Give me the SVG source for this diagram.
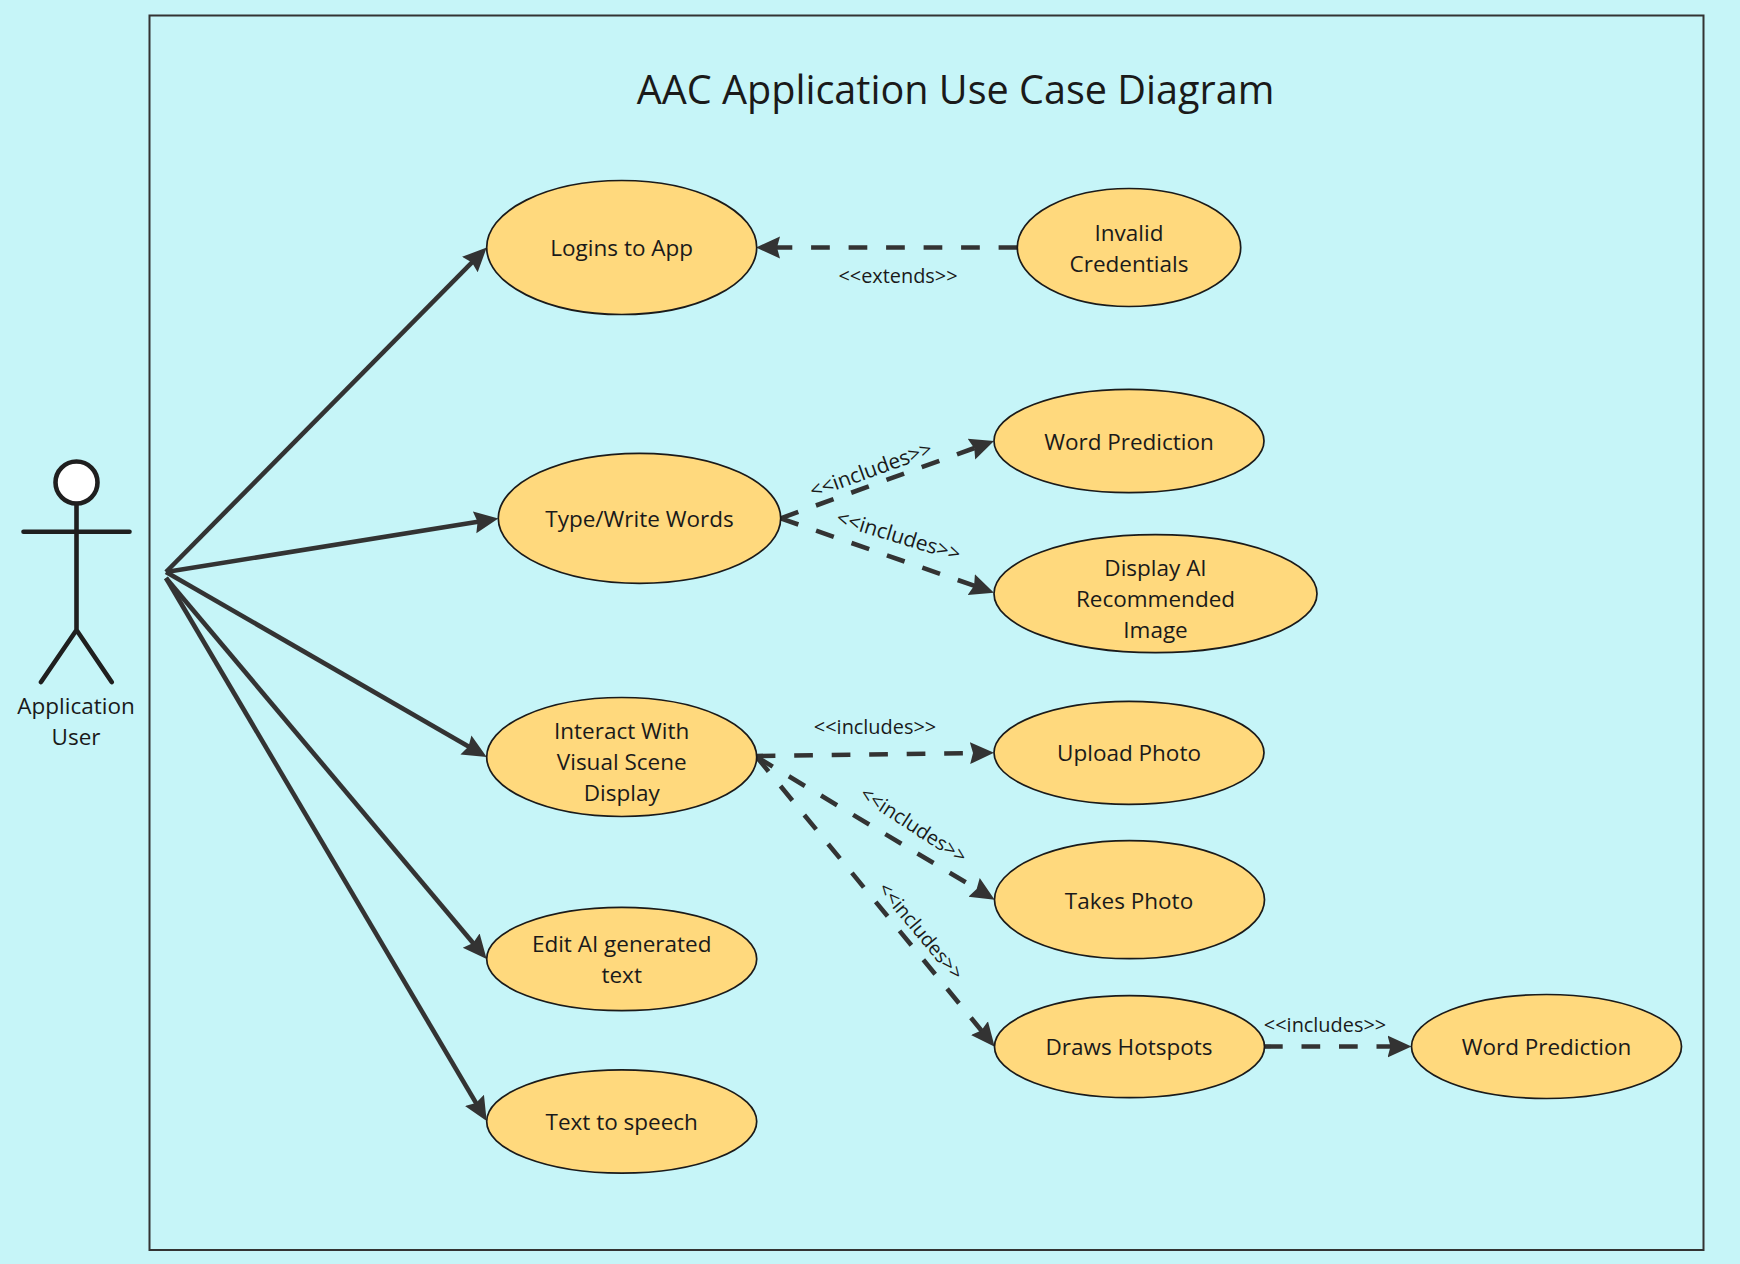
<svg xmlns="http://www.w3.org/2000/svg" width="1740" height="1264" viewBox="0 0 1740 1264">
<style>
text{font-family:"Open Sans","Noto Sans",sans-serif;fill:#1a1a1a;text-anchor:middle}
.n{font-size:22.5px}
.l{font-size:19.9px}
.m{font-size:20.9px}
.u{fill:#ffd97d;stroke:#1a1a1a;stroke-width:1.7}
.c{fill:none;stroke:#333;stroke-width:4.6}
.d{stroke-dasharray:18.7 18.8}
.a{fill:none;stroke:#1f1f1f;stroke-width:4.6;stroke-linecap:round}
</style>
<defs>
<marker id="h" markerUnits="userSpaceOnUse" markerWidth="26" markerHeight="26" viewBox="0 0 26 26" refX="16" refY="13" orient="auto"><path d="M24,13 L0,2 L3,13 L0,24 Z" fill="#333"/></marker>
</defs>
<rect width="1740" height="1264" fill="#c6f5f8"/>
<rect id="boundary" x="149.5" y="15.5" width="1554" height="1234.5" fill="none" stroke="#333" stroke-width="2"/>
<text id="title" x="955.5" y="104" font-size="39.6px">AAC Application Use Case Diagram</text>
<g id="connectors">
<line class="c" x1="166" y1="572" x2="481.1" y2="253.2" marker-end="url(#h)"/>
<line class="c" x1="166" y1="572" x2="490.4" y2="519.8" marker-end="url(#h)"/>
<line class="c" x1="166" y1="572" x2="479.8" y2="753" marker-end="url(#h)"/>
<line class="c" x1="166" y1="578" x2="481.5" y2="952.9" marker-end="url(#h)"/>
<line class="c" x1="166" y1="578" x2="482.6" y2="1114.1" marker-end="url(#h)"/>
<line class="c d" x1="1017.3" y1="247.5" x2="764" y2="247.5" marker-end="url(#h)"/>
<line class="c d" x1="780.7" y1="518.3" x2="986.5" y2="443.7" marker-end="url(#h)"/>
<line class="c d" x1="780.7" y1="518.3" x2="986.4" y2="590" marker-end="url(#h)"/>
<line class="c d" x1="756.7" y1="756" x2="986" y2="752.9" marker-end="url(#h)"/>
<line class="c d" x1="756.7" y1="757" x2="987.8" y2="895.6" marker-end="url(#h)"/>
<line class="c d" x1="756.7" y1="757" x2="989.6" y2="1040.5" marker-end="url(#h)"/>
<line class="c d" x1="1264" y1="1046.5" x2="1403.5" y2="1046.5" marker-end="url(#h)"/>
</g>
<g id="connector-labels">
<text class="l" x="898" y="283">&lt;&lt;extends&gt;&gt;</text>
<text class="m" x="871" y="477" transform="rotate(-20 871 470)">&lt;&lt;includes&gt;&gt;</text>
<text class="m" x="898.5" y="543" transform="rotate(17 898.5 536)">&lt;&lt;includes&gt;&gt;</text>
<text class="l" x="875" y="734">&lt;&lt;includes&gt;&gt;</text>
<text class="l" x="913.5" y="832" transform="rotate(33 913.5 825)">&lt;&lt;includes&gt;&gt;</text>
<text class="l" x="921" y="938" transform="rotate(50 921 931)" style="font-size:19.5px">&lt;&lt;includes&gt;&gt;</text>
<text class="l" x="1325" y="1032">&lt;&lt;includes&gt;&gt;</text>
</g>
<g id="actor">
<circle cx="76.5" cy="482.5" r="21" fill="#fff" stroke="#1f1f1f" stroke-width="4.6"/>
<path class="a" d="M76.5,504V630M23.5,531.7H129.5M76.5,630L41,682M76.5,630L111.7,682"/>
<text class="n" x="76" y="714">Application</text>
<text class="n" x="76" y="745">User</text>
</g>
<g id="logins"><ellipse class="u" cx="621.7" cy="247.5" rx="135" ry="67"/><text class="n" x="621.7" y="255.5">Logins to App</text></g>
<g id="invalid"><ellipse class="u" cx="1129" cy="247.5" rx="111.7" ry="59"/><text class="n" x="1129" y="240.5">Invalid</text><text class="n" x="1129" y="271.5">Credentials</text></g>
<g id="type"><ellipse class="u" cx="639.5" cy="518.3" rx="141.2" ry="65"/><text class="n" x="639.5" y="527">Type/Write Words</text></g>
<g id="wp1"><ellipse class="u" cx="1129" cy="441" rx="135" ry="51.7"/><text class="n" x="1129" y="449.5">Word Prediction</text></g>
<g id="display"><ellipse class="u" cx="1155.5" cy="593.7" rx="161.5" ry="59"/><text class="n" x="1155.5" y="576">Display AI</text><text class="n" x="1155.5" y="607">Recommended</text><text class="n" x="1155.5" y="638">Image</text></g>
<g id="interact"><ellipse class="u" cx="621.7" cy="757" rx="135" ry="59.5"/><text class="n" x="621.7" y="739">Interact With</text><text class="n" x="621.7" y="770">Visual Scene</text><text class="n" x="621.7" y="801">Display</text></g>
<g id="upload"><ellipse class="u" cx="1129" cy="752.8" rx="135" ry="51.5"/><text class="n" x="1129" y="760.5">Upload Photo</text></g>
<g id="takes"><ellipse class="u" cx="1129.5" cy="899.7" rx="135" ry="59"/><text class="n" x="1129" y="908.5">Takes Photo</text></g>
<g id="edit"><ellipse class="u" cx="621.7" cy="959" rx="135" ry="51.7"/><text class="n" x="621.7" y="952">Edit AI generated</text><text class="n" x="621.7" y="983">text</text></g>
<g id="draws"><ellipse class="u" cx="1129.5" cy="1046.7" rx="135" ry="51"/><text class="n" x="1129" y="1055">Draws Hotspots</text></g>
<g id="wp2"><ellipse class="u" cx="1546.5" cy="1046.5" rx="135" ry="52"/><text class="n" x="1546.5" y="1055">Word Prediction</text></g>
<g id="speech"><ellipse class="u" cx="621.7" cy="1121.5" rx="135" ry="51.7"/><text class="n" x="621.7" y="1130">Text to speech</text></g>
</svg>
